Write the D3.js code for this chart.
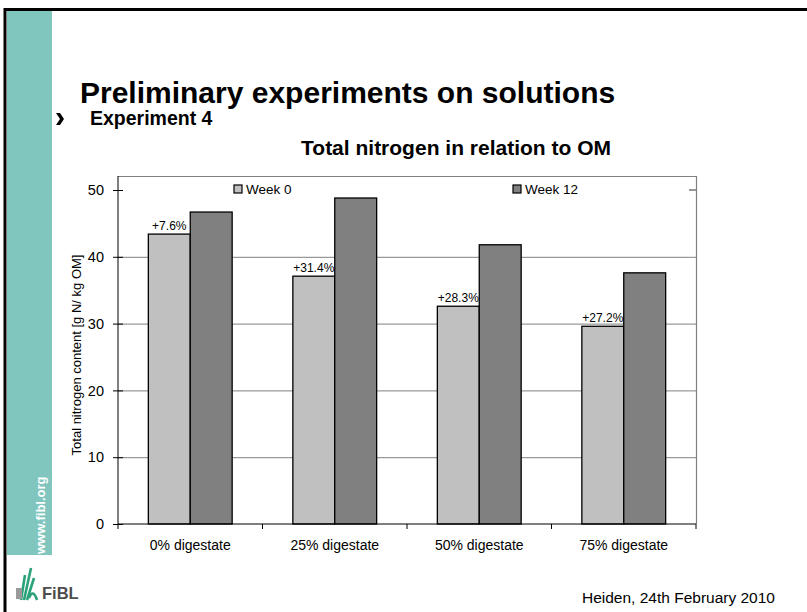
<!DOCTYPE html>
<html>
<head>
<meta charset="utf-8">
<script src="https://cdn.jsdelivr.net/npm/d3@7"></script>
<style>
  html, body { margin: 0; padding: 0; background: #fff; }
  svg { display: block; }
</style>
</head>
<body>
<div id="container"></div>
<script>
// chart values
const categories = ['0% digestate', '25% digestate', '50% digestate', '75% digestate'];
const series = ['Week 0', 'Week 12'];
const week0 = [43.4, 37.1, 32.6, 29.6];
const week12 = [46.7, 48.8, 41.8, 37.6];
const changeLabels = ['+7.6%', '+31.4%', '+28.3%', '+27.2%'];
const yTicks = [0, 10, 20, 30, 40, 50];

const width = 807, height = 612;
const colors = { 'Week 0': '#c0c0c0', 'Week 12': '#808080' };
const font = 'Arial, "Liberation Sans", sans-serif';

const svg = d3.select('#container')
  .append('svg')
  .attr('width', width)
  .attr('height', height)
  .style('font-family', font);

// slide frame (top + left) and teal stripe
svg.append('rect').attr('x', 7).attr('y', 11).attr('width', 45).attr('height', 544).attr('fill', '#80c6be');
svg.append('line').attr('x1', 4).attr('x2', width).attr('y1', 9.5).attr('y2', 9.5).attr('stroke', '#000').attr('stroke-width', 3);
svg.append('line').attr('x1', 5).attr('x2', 5).attr('y1', 8).attr('y2', height).attr('stroke', '#000').attr('stroke-width', 3);

svg.append('text')
  .attr('transform', 'translate(45,554) rotate(-90)')
  .attr('fill', '#fff')
  .attr('font-weight', 'bold')
  .attr('font-size', 13)
  .text('www.fibl.org');

// headings
svg.append('text').attr('x', 80).attr('y', 103)
  .attr('font-size', 30).attr('font-weight', 'bold').attr('fill', '#000')
  .text('Preliminary experiments on solutions');

// bullet chevron
svg.append('path')
  .attr('d', 'M56,113 L60,113 L64,119 L60,125 L56,125 L60,119 Z')
  .attr('fill', '#000');
svg.append('text').attr('x', 90).attr('y', 125)
  .attr('font-size', 19.5).attr('font-weight', 'bold')
  .text('Experiment 4');

svg.append('text').attr('x', 456).attr('y', 155)
  .attr('text-anchor', 'middle')
  .attr('font-size', 21).attr('font-weight', 'bold')
  .text('Total nitrogen in relation to OM');

// plot area
const plotLeft = 118, plotRight = 696, plotTop = 176, plotBottom = 524;

const x0 = d3.scaleBand().domain(categories).range([plotLeft, plotRight]).padding(0);
const bw = x0.bandwidth();
const x1 = d3.scaleBand().domain(series).range([bw * 0.21, bw * 0.79]).padding(0);
const y = d3.scaleLinear().domain([0, 50]).range([plotBottom, 190]);

// gridlines
svg.append('g')
  .attr('transform', `translate(${plotLeft},0)`)
  .call(d3.axisLeft(y).tickValues(yTicks.filter(d => d > 0 && d < 50)).tickSize(-(plotRight - plotLeft)).tickFormat(''))
  .call(g => g.select('.domain').remove())
  .call(g => g.selectAll('line').attr('stroke', '#808080'));

// frame top and right
svg.append('path')
  .attr('d', `M${plotLeft},${plotTop + 0.5}H${plotRight + 0.5}V${plotBottom}`)
  .attr('fill', 'none').attr('stroke', '#808080').attr('stroke-width', 1.2);

// right tick at 50
svg.append('line').attr('x1', plotRight - 7).attr('x2', plotRight).attr('y1', y(50)).attr('y2', y(50))
  .attr('stroke', '#555').attr('stroke-width', 1.2);

// bars
const rows = categories.map((c, i) => ({ cat: c, 'Week 0': week0[i], 'Week 12': week12[i], label: changeLabels[i] }));

const groups = svg.append('g').selectAll('g')
  .data(rows)
  .join('g')
  .attr('transform', d => `translate(${x0(d.cat)},0)`);

groups.selectAll('rect')
  .data(d => series.map(s => ({ key: s, value: d[s] })))
  .join('rect')
  .attr('x', d => x1(d.key))
  .attr('y', d => y(d.value))
  .attr('width', x1.bandwidth())
  .attr('height', d => y(0) - y(d.value))
  .attr('fill', d => colors[d.key])
  .attr('stroke', '#000')
  .attr('stroke-width', 1.3);

groups.append('text')
  .attr('x', x1('Week 0') + x1.bandwidth() / 2)
  .attr('y', d => y(d['Week 0']) - 4)
  .attr('text-anchor', 'middle')
  .attr('font-size', 12)
  .text(d => d.label);

// y axis
svg.append('g')
  .attr('transform', `translate(${plotLeft},0)`)
  .call(d3.axisLeft(y).tickValues(yTicks).tickSize(5).tickPadding(9))
  .call(g => g.select('.domain').attr('d', `M0,${plotTop}V${plotBottom}`).attr('stroke', '#000'))
  .call(g => g.selectAll('.tick line').attr('x1', -5).attr('x2', 5).attr('stroke', '#000'))
  .call(g => g.selectAll('text').attr('font-size', 14.5).attr('font-family', font).attr('fill', '#000'));

// x axis
svg.append('g')
  .attr('transform', `translate(0,${plotBottom})`)
  .call(d3.axisBottom(x0).tickSize(0).tickPadding(16))
  .call(g => g.select('.domain').attr('d', `M${plotLeft},0H${plotRight}`).attr('stroke', '#000'))
  .call(g => g.selectAll('text').attr('font-size', 14).attr('font-family', font).attr('fill', '#000'));

svg.append('g').selectAll('line')
  .data(categories.map(c => x0(c)).concat([plotRight]))
  .join('line')
  .attr('x1', d => d).attr('x2', d => d)
  .attr('y1', plotBottom).attr('y2', plotBottom + 5)
  .attr('stroke', '#000');

// y label
svg.append('text')
  .attr('transform', `translate(81,${(plotTop + plotBottom) / 2 + 5}) rotate(-90)`)
  .attr('text-anchor', 'middle')
  .attr('font-size', 13)
  .text('Total nitrogen content [g N/ kg OM]');

// legend
const legendX = [234, 513];
const legend = svg.append('g').selectAll('g')
  .data(series)
  .join('g')
  .attr('transform', (d, i) => `translate(${legendX[i]},${y(50) - 5})`);
legend.append('rect')
  .attr('width', 8).attr('height', 8)
  .attr('fill', d => colors[d]).attr('stroke', '#000').attr('stroke-width', 1.2);
legend.append('text')
  .attr('x', 12).attr('y', 9)
  .attr('font-size', 13.5)
  .text(d => d);

// footer
svg.append('text').attr('x', 775).attr('y', 603)
  .attr('text-anchor', 'end').attr('font-size', 15.5)
  .text('Heiden, 24th February 2010');

// logo
const logo = svg.append('g').attr('transform', 'translate(14,566)');
logo.append('path')
  .attr('d', 'M7,34 L11,9 M10,34 L17,2 M13,34 L20,12 M15,32 Q19,22 23,34')
  .attr('stroke', '#2aa27a').attr('stroke-width', 2.6).attr('fill', 'none');
logo.append('rect').attr('x', 2).attr('y', 22).attr('width', 6).attr('height', 11).attr('fill', '#9a9a9a');
logo.append('text').attr('x', 28).attr('y', 33)
  .attr('font-size', 16.5).attr('font-weight', 'bold').attr('fill', '#4d4d4d')
  .text('FiBL');
</script>
</body>
</html>
